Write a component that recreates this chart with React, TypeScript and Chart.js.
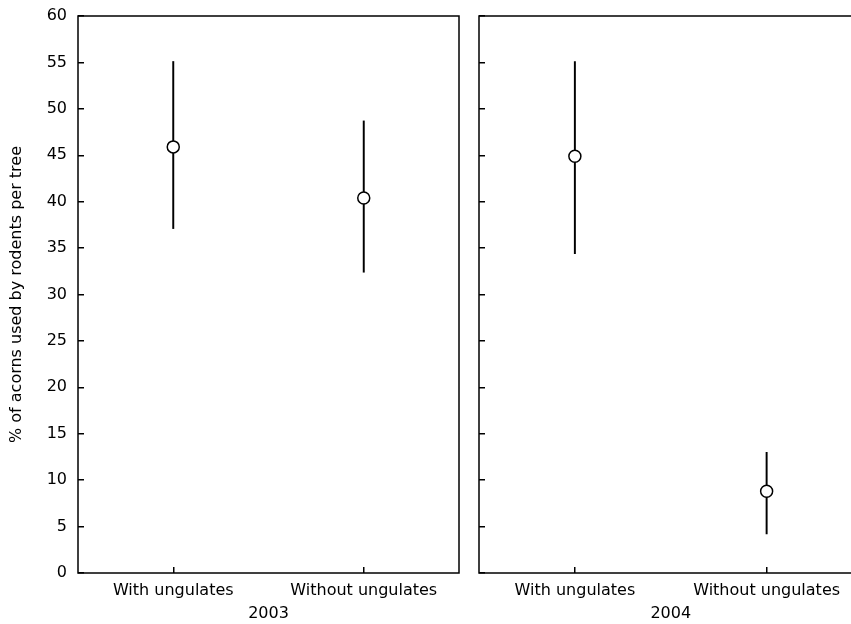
import React, { useEffect, useRef } from 'react';
import { Chart, registerables } from 'chart.js';

Chart.register(...registerables);

const categories = ['With ungulates', 'Without ungulates'];
const years = ['2003', '2004'];
const mean2003 = [45.9, 40.4];
const upper2003 = [55.1, 48.7];
const lower2003 = [37.1, 32.4];
const mean2004 = [44.9, 8.8];
const upper2004 = [55.1, 13.0];
const lower2004 = [34.4, 4.2];
const yMin = 0;
const yMax = 60;
const yStep = 5;
const yTitle = '% of acorns used by rodents per tree';

const FONT = 'DejaVu Sans';

const framePlugin = {
  id: 'frame',
  afterDraw(chart: any) {
    const { ctx, chartArea } = chart;
    ctx.save();
    ctx.strokeStyle = '#000';
    ctx.lineWidth = 1.5;
    ctx.strokeRect(chartArea.left, chartArea.top, chartArea.right - chartArea.left, chartArea.bottom - chartArea.top);
    ctx.restore();
  },
};

type PanelProps = {
  year: string;
  mean: number[];
  lower: number[];
  upper: number[];
  showY: boolean;
  left: number;
  width: number;
  axisWidth: number;
  padRight: number;
  padTop: number;
};

function Panel({ year, mean, lower, upper, showY, left, width, axisWidth, padRight, padTop }: PanelProps) {
  const ref = useRef<HTMLCanvasElement>(null);
  useEffect(() => {
    if (!ref.current) return;
    const chart = new Chart(ref.current, {
      type: 'bar',
      data: {
        labels: categories,
        datasets: [
          {
            type: 'line',
            data: mean,
            showLine: false,
            pointRadius: 6,
            pointHoverRadius: 6,
            pointBackgroundColor: '#fff',
            pointBorderColor: '#000',
            pointBorderWidth: 1.5,
            order: 0,
          } as any,
          {
            type: 'bar',
            data: lower.map((l, i) => [l, upper[i]]),
            backgroundColor: '#000',
            borderWidth: 0,
            barThickness: 1.3,
            order: 1,
          } as any,
        ],
      },
      options: {
        responsive: false,
        animation: false,
        events: [],
        layout: { padding: { top: padTop, right: padRight, left: 0, bottom: 0 } },
        plugins: { legend: { display: false }, tooltip: { enabled: false } },
        scales: {
          x: {
            offset: true,
            border: { display: false },
            grid: { offset: false, drawOnChartArea: false, drawTicks: true, tickLength: -6, color: '#000', lineWidth: 1.5 },
            ticks: { color: '#000', padding: 14, font: { family: FONT, size: 16 }, maxRotation: 0 },
            title: { display: true, text: year, color: '#000', font: { family: FONT, size: 16 }, padding: { top: 0, bottom: 1 } },
            afterFit: (s: any) => { s.height = 51; s.paddingLeft = 0; s.paddingRight = 0; },
          },
          y: {
            min: yMin,
            max: yMax,
            border: { display: false },
            grid: { drawOnChartArea: false, drawTicks: true, tickLength: -6, color: '#000', lineWidth: 1.5 },
            ticks: { display: showY, stepSize: yStep, color: '#000', padding: 17, font: { family: FONT, size: 16 } },
            title: { display: showY, text: yTitle, color: '#000', font: { family: FONT, size: 16 }, padding: { top: 7, bottom: 0 } },
            afterFit: (s: any) => { s.width = axisWidth; s.paddingTop = 0; s.paddingBottom = 0; },
          },
        },
      },
      plugins: [framePlugin],
    } as any);
    return () => chart.destroy();
  }, []);
  return (
    <canvas
      ref={ref}
      width={width}
      height={624}
      style={{ position: 'absolute', left, top: 0, width, height: 624 }}
    />
  );
}

export default function App() {
  return (
    <div style={{ position: 'fixed', left: 0, top: 0, width: 851, height: 624, overflow: 'hidden', background: '#fff' }}>
      <Panel year={years[0]} mean={mean2003} lower={lower2003} upper={upper2003} showY={true} left={0} width={469} axisWidth={78} padRight={10} padTop={16} />
      <Panel year={years[1]} mean={mean2004} lower={lower2004} upper={upper2004} showY={false} left={469} width={401} axisWidth={10} padRight={0} padTop={16} />
    </div>
  );
}
